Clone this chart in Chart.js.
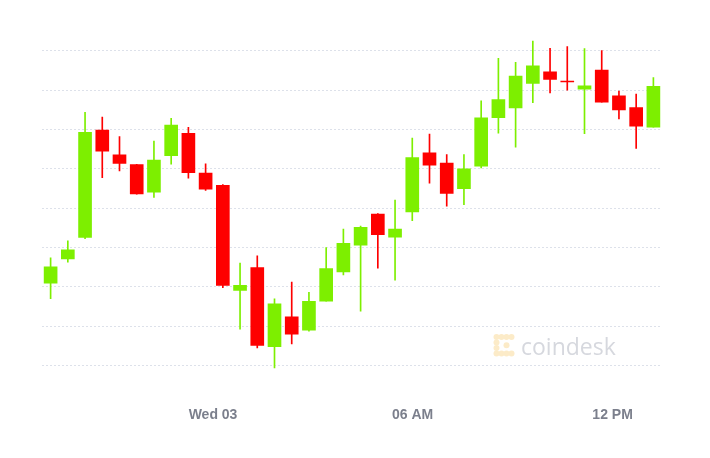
<!DOCTYPE html>
<html>
<head>
<meta charset="utf-8">
<script src="https://cdn.jsdelivr.net/npm/chart.js@4.4.0/dist/chart.umd.min.js"></script>
<style>
  html, body { margin: 0; padding: 0; background: #fff; }
  #wrap { width: 710px; height: 458px; }
</style>
</head>
<body>
<div id="wrap"><canvas id="candles" width="710" height="458"></canvas></div>
<script>
// BTC/USD half-hourly candles
const opens  = [36023, 36178, 36314, 36996, 36839, 36776, 36601, 36833, 36975, 36722,
                36645, 35978, 36122, 35621, 35810, 35725, 35910, 36095, 36265, 36463,
                36316, 36476, 36852, 36786, 36624, 36767, 37075, 37137, 37292, 37366,
                37307, 37256, 37377, 37213, 37139, 37015];
const highs  = [36184, 36293, 37109, 37079, 36954, 36778, 36926, 37071, 37013, 36782,
                36650, 36151, 36197, 35925, 36031, 35966, 36250, 36367, 36387, 36465,
                36552, 36945, 36971, 36841, 36841, 37181, 37452, 37426, 37561, 37515,
                37526, 37513, 37500, 37243, 37224, 37330];
const lows   = [35925, 36157, 36307, 36693, 36737, 36589, 36569, 36779, 36690, 36612,
                35995, 35732, 35612, 35485, 35638, 35719, 35910, 36076, 35846, 36119,
                36042, 36420, 36658, 36512, 36522, 36756, 36977, 36888, 37170, 37232,
                37250, 36973, 37173, 37066, 36880, 37015];
const closes = [36127, 36235, 36982, 36862, 36784, 36591, 36805, 37028, 36725, 36621,
                36010, 36010, 35628, 35893, 35700, 35908, 36116, 36276, 36378, 36331,
                36367, 36822, 36773, 36594, 36750, 37073, 37190, 37339, 37404, 37318,
                37301, 37277, 37173, 37124, 37020, 37273];

// x axis labels and where they fall, in candle units
const tickLabels = ['Wed 03', '06 AM', '12 PM'];
const tickAt = [9.43, 21.02, 32.63];
// price levels of the dotted grid lines (no labels shown)
const gridValues = [35500, 35750, 36000, 36250, 36500, 36750, 37000, 37250, 37500];

const upColor = '#7def00';
const downColor = '#fe0000';
const candleColors = opens.map((o, i) => closes[i] >= o ? upColor : downColor);

const bodies = opens.map((o, i) => ({ x: i, y: [o, closes[i]] }));
const wicks = opens.map((o, i) => ({ x: i, y: [lows[i], highs[i]] }));

// faint coindesk watermark
const watermark = {
  id: 'watermark',
  beforeDatasetsDraw(chart) {
    const c = chart.ctx;
    c.save();
    c.fillStyle = '#fcebc8';
    const dots = [[0,0],[1,0],[2,0],[3,0],[0,1],[0,2],[0,3],[1,3],[2,3],[3,3],[2,1.5]];
    dots.forEach(([dx, dy]) => {
      c.beginPath();
      c.arc(496.5 + dx * 5, 337 + dy * 5.5, 3, 0, Math.PI * 2);
      c.fill();
    });
    c.fillStyle = '#d6d8de';
    c.font = '23px "Open Sans"';
    c.textBaseline = 'alphabetic';
    c.fillText('coindesk', 521, 355);
    c.restore();
  }
};

const ctx = document.getElementById('candles').getContext('2d');
new Chart(ctx, {
  type: 'bar',
  data: {
    datasets: [
      {
        data: bodies,
        backgroundColor: candleColors,
        barThickness: 13,
        minBarLength: 1,
        grouped: false,
        order: 0
      },
      {
        data: wicks,
        backgroundColor: candleColors,
        barThickness: 1,
        grouped: false,
        order: 1
      }
    ]
  },
  options: {
    responsive: false,
    animation: false,
    layout: { padding: { left: 42, right: 48, top: 31, bottom: 20 } },
    plugins: {
      legend: { display: false },
      tooltip: { enabled: false }
    },
    scales: {
      x: {
        type: 'linear',
        min: -0.5,
        max: 35.5,
        offset: false,
        grid: { display: false, drawTicks: false, offset: false },
        border: { display: false },
        afterBuildTicks: (scale) => { scale.ticks = tickAt.map(v => ({ value: v })); },
        ticks: {
          autoSkip: false,
          maxRotation: 0,
          padding: 14,
          color: '#7b7f8c',
          font: { family: 'Liberation Sans', size: 14, weight: 'bold' },
          callback: (v, i) => tickLabels[i]
        }
      },
      y: {
        min: 35325,
        max: 37625,
        offset: false,
        afterBuildTicks: (scale) => { scale.ticks = gridValues.map(v => ({ value: v })); },
        ticks: { display: false },
        grid: { color: '#dde1ea', drawTicks: false, offset: false },
        border: { display: false, dash: [2, 2] }
      }
    }
  },
  plugins: [watermark]
});
</script>
</body>
</html>
